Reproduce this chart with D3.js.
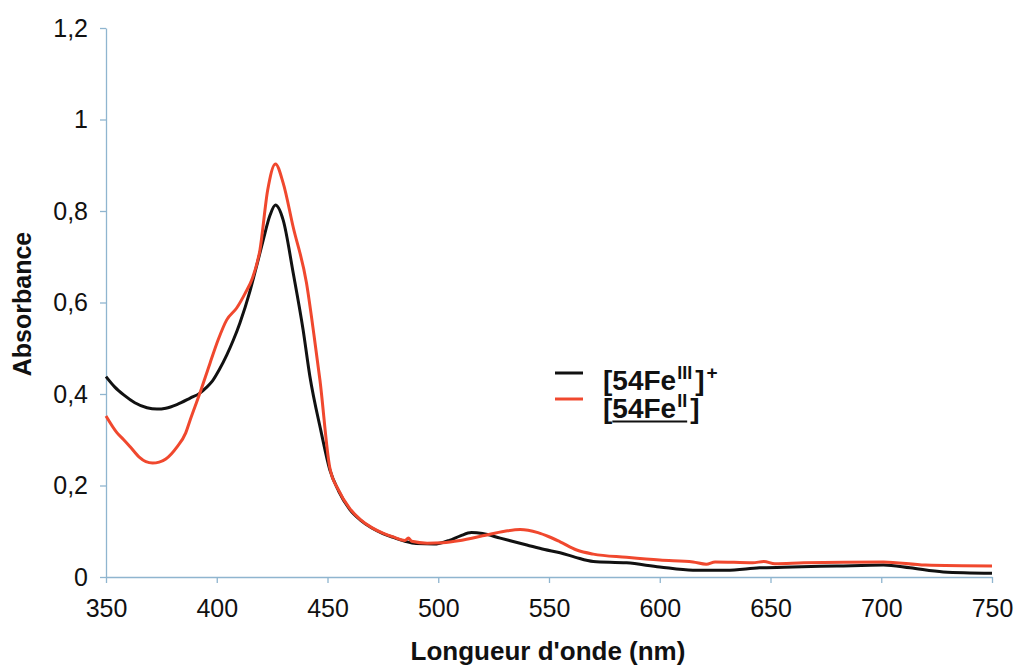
<!DOCTYPE html>
<html><head><meta charset="utf-8">
<script src="https://cdn.jsdelivr.net/npm/d3@7"></script>
<style>
html,body{margin:0;padding:0;background:#fff;}
svg{display:block;}
text{font-family:"Liberation Sans",Arial,Helvetica,sans-serif;}
</style></head>
<body>
<svg id="chart" width="1015" height="666"></svg>
<script>
// ---- data ----
const xTicks = [350,400,450,500,550,600,650,700,750];
const yTicks = [0,0.2,0.4,0.6,0.8,1,1.2];

const wlFe3 = [350,354,358,363,368.5,373,377,382,388,392.4,395,398,401,404.5,407.5,410.5,415,418,421,424,426.5,430,434.5,439,442,447,451,455,460,465,470,475,480,485,490,498,505,510,515,520,528,540,548,555,562,570,585,600,615,630,645,660,680,701,713,728,750];
const absFe3 = [0.438,0.415,0.398,0.381,0.370,0.367,0.369,0.377,0.391,0.402,0.413,0.428,0.452,0.485,0.518,0.556,0.625,0.680,0.737,0.790,0.813,0.780,0.665,0.540,0.440,0.320,0.235,0.188,0.148,0.124,0.107,0.095,0.086,0.078,0.073,0.072,0.080,0.090,0.097,0.095,0.085,0.070,0.060,0.053,0.043,0.034,0.031,0.022,0.015,0.015,0.020,0.022,0.024,0.026,0.020,0.011,0.008];

const wlFe2 = [350,355,358,361,365,368,371,374,377,382,386,388,392.4,397,400.6,404.5,409,412.8,416,419.5,423,426.5,430,434.5,440.5,444,446.6,451,455,460,465,470,475,480,485,486.5,488,495,502,510,520,530,537,545,550,555,562.5,570,585,600,615,621,625,642,647,652,665,701,720,750];
const absFe2 = [0.352,0.315,0.300,0.284,0.262,0.252,0.249,0.251,0.258,0.284,0.315,0.343,0.402,0.468,0.518,0.562,0.588,0.620,0.652,0.715,0.846,0.903,0.861,0.765,0.643,0.525,0.430,0.240,0.190,0.150,0.125,0.108,0.096,0.087,0.080,0.085,0.078,0.074,0.075,0.080,0.090,0.100,0.104,0.097,0.088,0.077,0.059,0.050,0.043,0.037,0.033,0.028,0.033,0.031,0.034,0.029,0.031,0.033,0.026,0.024];

// ---- layout ----
const svg = d3.select("#chart");
const axisColor = "#8fb5cf";
const x = d3.scaleLinear().domain([350,750]).range([106,992]);
const y = d3.scaleLinear().domain([0,1.2]).range([577,28]);
const fmt = d => String(+d.toFixed(1)).replace(".", ",");

// x axis
const gx = svg.append("g").attr("transform","translate(0,577)")
  .call(d3.axisBottom(x).tickValues(xTicks).tickSize(6).tickPadding(16).tickSizeOuter(0).tickFormat(d=>d));
// y axis
const gy = svg.append("g").attr("transform","translate(106,0)")
  .call(d3.axisLeft(y).tickValues(yTicks).tickSize(6).tickPadding(12).tickSizeOuter(0).tickFormat(fmt));
[gx,gy].forEach(g=>{
  g.select(".domain").attr("stroke",axisColor).attr("stroke-width",1.3);
  g.selectAll(".tick line").attr("stroke",axisColor).attr("stroke-width",1.3);
  g.selectAll(".tick text").attr("fill","#111").style("font-size","25px").style("font-family","'Liberation Sans',Arial,sans-serif");
});

// curves
const line = d3.line().x(d=>x(d[0])).y(d=>y(d[1])).curve(d3.curveMonotoneX);
const dFe3 = wlFe3.map((w,i)=>[w,absFe3[i]]);
const dFe2 = wlFe2.map((w,i)=>[w,absFe2[i]]);
svg.append("path").datum(dFe3).attr("d",line).attr("fill","none").attr("stroke","#111").attr("stroke-width",3).attr("stroke-linejoin","round");
svg.append("path").datum(dFe2).attr("d",line).attr("fill","none").attr("stroke","#f0482e").attr("stroke-width",3).attr("stroke-linejoin","round");

// axis titles
svg.append("text").attr("x",548).attr("y",660).attr("text-anchor","middle")
  .style("font-size","26px").style("font-weight","bold").attr("fill","#111").text("Longueur d'onde (nm)");
svg.append("text").attr("transform","translate(31,304) rotate(-90)").attr("text-anchor","middle")
  .style("font-size","25px").style("font-weight","bold").attr("fill","#111").text("Absorbance");

// legend
svg.append("line").attr("x1",555).attr("x2",583).attr("y1",373).attr("y2",373).attr("stroke","#111").attr("stroke-width",3);
svg.append("line").attr("x1",555).attr("x2",583).attr("y1",399).attr("y2",399).attr("stroke","#f0482e").attr("stroke-width",3);

const t1 = svg.append("text").attr("x",603).attr("y",390).attr("fill","#111").style("font-weight","bold").style("font-size","28px");
t1.append("tspan").text("[54Fe");
t1.append("tspan").attr("dx",1).attr("dy",-11).style("font-size","18px").text("III");
t1.append("tspan").attr("dx",3).attr("dy",11).text("]");
t1.append("tspan").attr("dx",2).attr("dy",-11).style("font-size","19px").text("+");

const t2 = svg.append("text").attr("x",603).attr("y",418).attr("fill","#111").style("font-weight","bold").style("font-size","28px");
t2.append("tspan").text("[");
t2.append("tspan").text("54Fe");
t2.append("tspan").attr("dx",1).attr("dy",-11).style("font-size","18px").text("II");
t2.append("tspan").attr("dx",3).attr("dy",11).text("]");
// underline under "54Fe" + "II"
const n2 = t2.node();
const s = n2.getStartPositionOfChar(1).x;
const e = n2.getEndPositionOfChar(6).x;
svg.append("line").attr("x1",s).attr("x2",e).attr("y1",421.5).attr("y2",421.5).attr("stroke","#111").attr("stroke-width",2);
</script>
</body></html>
